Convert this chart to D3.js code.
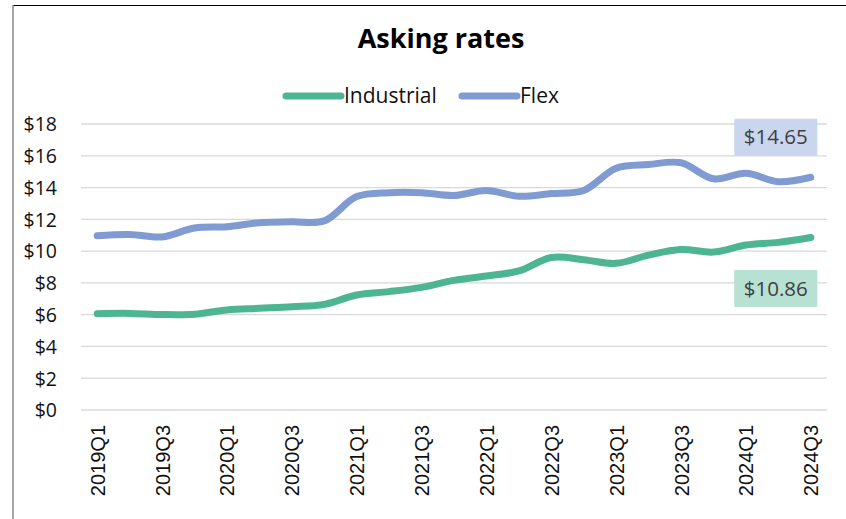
<!DOCTYPE html>
<html><head><meta charset="utf-8">
<script src="https://cdn.jsdelivr.net/npm/d3@7"></script>
<style>body{margin:0;background:#fff}svg{display:block}</style>
</head><body>
<script>
const quarters = ["2019Q1","2019Q2","2019Q3","2019Q4","2020Q1","2020Q2","2020Q3","2020Q4","2021Q1","2021Q2","2021Q3","2021Q4","2022Q1","2022Q2","2022Q3","2022Q4","2023Q1","2023Q2","2023Q3","2023Q4","2024Q1","2024Q2","2024Q3"];
const industrial = [6.06,6.08,6.01,6.03,6.30,6.40,6.50,6.65,7.24,7.45,7.72,8.16,8.43,8.75,9.60,9.46,9.23,9.75,10.10,9.94,10.38,10.55,10.86];
const flex = [10.97,11.05,10.89,11.45,11.54,11.79,11.85,11.90,13.43,13.68,13.68,13.50,13.82,13.45,13.62,13.82,15.22,15.45,15.56,14.55,14.90,14.37,14.65];
const yTicks = [0,2,4,6,8,10,12,14,16,18];
const xTickLabels = quarters.filter((q,i)=>i%2===0);
const seriesNames = ["Industrial","Flex"];
const colors = {Industrial:"#4db592", Flex:"#7f9bd2"};
const labelBg = {Industrial:"#b6e1d3", Flex:"#c9d6ee"};

const W=846,H=519;
const svg=d3.select("body").append("svg").attr("width",W).attr("height",H);
const font="'Open Sans', sans-serif";

// frame
svg.append("line").attr("x1",13).attr("x2",846).attr("y1",5.5).attr("y2",5.5).attr("stroke","#000").attr("stroke-width",1.2);
svg.append("line").attr("x1",13).attr("x2",13).attr("y1",5).attr("y2",519).attr("stroke","#888").attr("stroke-width",1.5);

const x=d3.scalePoint().domain(quarters).range([81,827]).padding(0.5);
const y=d3.scaleLinear().domain([0,18]).range([410,124]);

// gridlines
svg.append("g").selectAll("line").data(yTicks).join("line")
  .attr("x1",81).attr("x2",827).attr("y1",d=>y(d)).attr("y2",d=>y(d))
  .attr("stroke","#d9d9d9").attr("stroke-width",1.3);

// y axis
const ya=svg.append("g").attr("transform","translate(81,0)")
  .call(d3.axisLeft(y).tickValues(yTicks).tickSize(0).tickPadding(24).tickFormat(d=>"$"+d));
ya.select(".domain").remove();
ya.selectAll("text").attr("font-family",font).attr("font-size",19.5).attr("fill","#111").attr("dy","0.35em");

// x axis
const xa=svg.append("g").attr("transform","translate(0,410)")
  .call(d3.axisBottom(x).tickValues(xTickLabels).tickSize(0));
xa.select(".domain").remove();
xa.selectAll("text").attr("font-family","'Liberation Sans', Arial, sans-serif").attr("font-size",20).attr("fill","#111")
  .attr("transform","rotate(-90)").attr("text-anchor","end").attr("x",-15).attr("y",0).attr("dy","0.35em");

// lines
const data={Industrial:industrial, Flex:flex};
const line=d3.line().x((d,i)=>x(quarters[i])).y(d=>y(d)).curve(d3.curveCatmullRom.alpha(0.5));
seriesNames.forEach(n=>{
  svg.append("path").attr("d",line(data[n])).attr("fill","none").attr("stroke",colors[n])
    .attr("stroke-width",7).attr("stroke-linecap","round").attr("stroke-linejoin","round");
});

// end labels
const lblOffset={Industrial:51, Flex:-40};
seriesNames.forEach(n=>{
  const v=data[n][data[n].length-1];
  const cx=x(quarters[quarters.length-1])-35, cy=y(v)+lblOffset[n];
  svg.append("rect").attr("x",cx-41.5).attr("y",cy-18.5).attr("width",83).attr("height",37).attr("fill",labelBg[n]);
  svg.append("text").attr("x",cx).attr("y",cy).attr("dy","0.35em").attr("text-anchor","middle")
    .attr("font-family",font).attr("font-size",20.5).attr("fill","#404040").text("$"+v.toFixed(2));
});

// title
svg.append("text").attr("x",441).attr("y",48).attr("text-anchor","middle").attr("font-family",font)
  .attr("font-weight","bold").attr("font-size",27).attr("fill","#000").text("Asking rates");

// legend
const leg=[{n:"Industrial",x1:286,x2:341,tx:344},{n:"Flex",x1:462,x2:517,tx:520}];
leg.forEach(l=>{
  svg.append("line").attr("x1",l.x1).attr("x2",l.x2).attr("y1",96).attr("y2",96).attr("stroke",colors[l.n])
    .attr("stroke-width",7).attr("stroke-linecap","round");
  svg.append("text").attr("x",l.tx).attr("y",96).attr("dy","0.35em").attr("font-family",font)
    .attr("font-size",21).attr("fill","#111").text(l.n);
});
</script>
</body></html>
